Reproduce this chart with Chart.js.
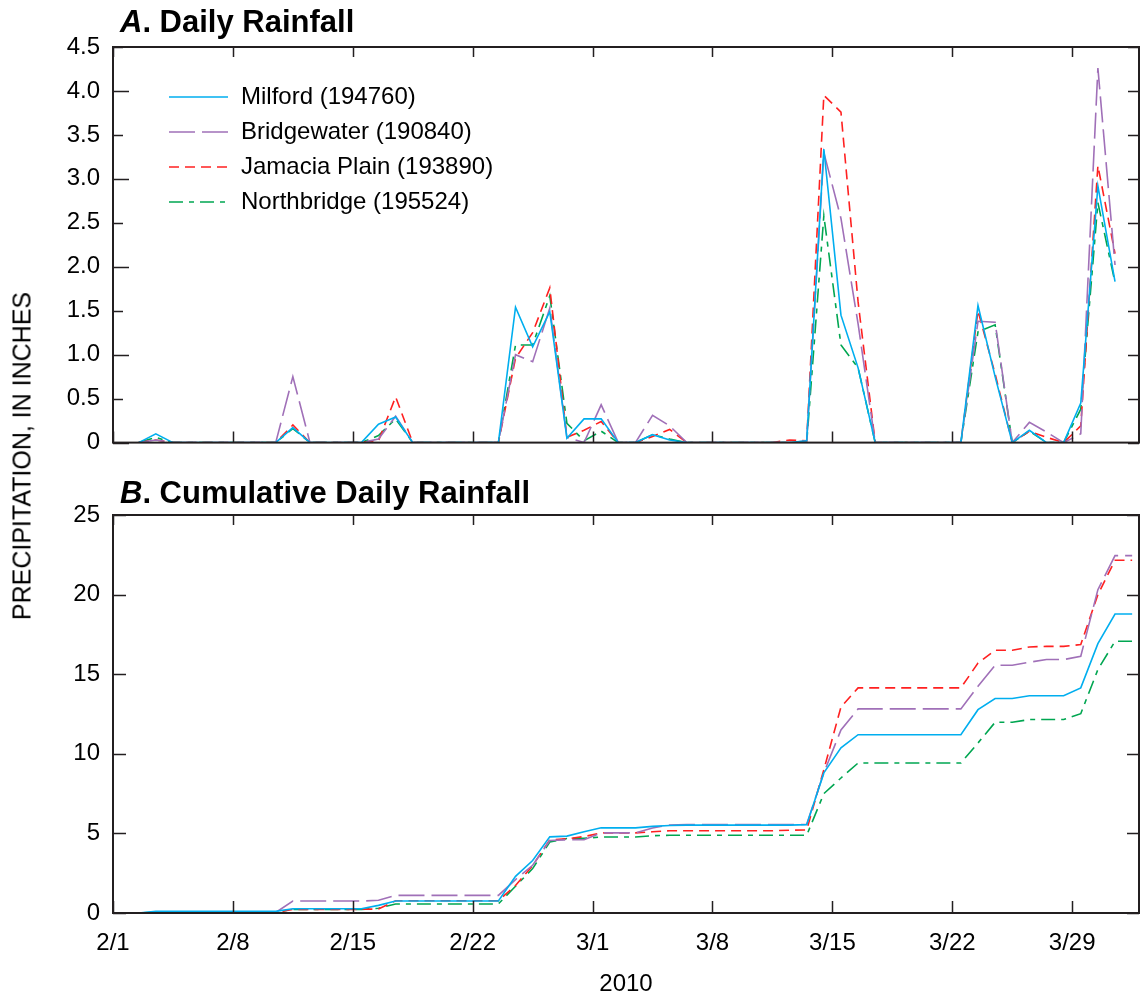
<!DOCTYPE html>
<html>
<head>
<meta charset="utf-8">
<title>Daily and cumulative rainfall, 2010</title>
<script src="https://cdn.jsdelivr.net/npm/chart.js@4"></script>
<style>
  body { margin: 0; background: #fff; }
  #wrap { position: relative; width: 1141px; height: 1000px; }
  canvas { position: absolute; left: 0; }
  #rainA { top: 0; }
  #rainB { top: 470px; }
  #ylab {
    position: absolute; left: 22px; top: 456px;
    transform: translate(-50%, -50%) rotate(-90deg);
    white-space: nowrap; color: #000;
    font: 25px "Liberation Sans", Arial, sans-serif;
  }
</style>
</head>
<body>
<div id="wrap">
  <canvas id="rainA" width="1141" height="470"></canvas>
  <canvas id="rainB" width="1141" height="530"></canvas>
  <div id="ylab">PRECIPITATION, IN INCHES</div>
</div>
<script>
// observation dates (2010), one per day
var dates = ['2/2','2/3','2/4','2/5','2/6','2/7','2/8','2/9','2/10','2/11',
  '2/12','2/13','2/14','2/15','2/16','2/17','2/18','2/19','2/20','2/21',
  '2/22','2/23','2/24','2/25','2/26','2/27','2/28','3/1','3/2','3/3',
  '3/4','3/5','3/6','3/7','3/8','3/9','3/10','3/11','3/12','3/13',
  '3/14','3/15','3/16','3/17','3/18','3/19','3/20','3/21','3/22','3/23',
  '3/24','3/25','3/26','3/27','3/28','3/29','3/30','3/31','4/1'];

var xTickLabels = ['2/1','2/8','2/15','2/22','3/1','3/8','3/15','3/22','3/29'];

var stations = ['Milford (194760)', 'Bridgewater (190840)', 'Jamacia Plain (193890)', 'Northbridge (195524)'];

// A. daily rainfall, inches (2/2 - 3/31)
var milfordDaily = [0, 0.10, 0, 0, 0, 0, 0, 0, 0, 0.17,
  0, 0, 0, 0, 0.21, 0.29, 0, 0, 0, 0,
  0, 0, 1.54, 1.09, 1.49, 0.05, 0.27, 0.27, 0, 0,
  0.09, 0.03, 0, 0, 0, 0, 0, 0, 0, 0.02,
  3.34, 1.45, 0.85, 0, 0, 0, 0, 0, 0, 1.56,
  0.75, 0, 0.14, 0, 0, 0.45, 2.92, 1.83];
var bridgewaterDaily = [0, 0.03, 0, 0, 0, 0, 0, 0, 0, 0.75,
  0, 0, 0, 0, 0.04, 0.30, 0, 0, 0, 0,
  0, 0, 1.00, 0.92, 1.53, 0.06, 0, 0.43, 0, 0,
  0.31, 0.19, 0, 0, 0, 0, 0, 0, 0, 0.02,
  3.30, 2.55, 1.35, 0, 0, 0, 0, 0, 0, 1.38,
  1.37, 0, 0.23, 0.12, 0, 0.10, 4.26, 2.02];
var jamaicaDaily = [0, 0.03, 0, 0, 0, 0, 0, 0, 0, 0.20,
  0, 0, 0, 0, 0.02, 0.52, 0, 0, 0, 0,
  0, 0, 0.96, 1.25, 1.76, 0.06, 0.14, 0.24, 0, 0,
  0.07, 0.15, 0, 0, 0, 0, 0, 0, 0.03, 0.02,
  3.95, 3.76, 1.60, 0, 0, 0, 0, 0, 0, 1.50,
  0.78, 0, 0.13, 0.06, 0, 0.19, 3.15, 2.15];
var northbridgeDaily = [0, 0.06, 0, 0, 0, 0, 0, 0, 0, 0.16,
  0, 0, 0, 0, 0.08, 0.27, 0, 0, 0, 0,
  0, 0, 1.11, 1.11, 1.67, 0.22, 0.02, 0.13, 0, 0,
  0.09, 0.04, 0, 0, 0, 0, 0, 0, 0, 0,
  2.58, 1.11, 0.85, 0, 0, 0, 0, 0, 0, 1.26,
  1.34, 0, 0.13, 0, 0, 0.38, 2.73, 1.82];

// B. cumulative daily rainfall, inches (2/2 - 4/1)
var milfordCum = [0, 0.10, 0.10, 0.10, 0.10, 0.10, 0.10, 0.10, 0.10, 0.27,
  0.27, 0.27, 0.27, 0.27, 0.48, 0.75, 0.75, 0.75, 0.75, 0.75,
  0.75, 0.75, 2.30, 3.30, 4.78, 4.83, 5.10, 5.35, 5.35, 5.35,
  5.44, 5.50, 5.52, 5.52, 5.52, 5.52, 5.52, 5.52, 5.52, 5.55,
  8.80, 10.37, 11.20, 11.20, 11.20, 11.20, 11.20, 11.20, 11.20, 12.77,
  13.47, 13.47, 13.65, 13.65, 13.65, 14.14, 16.92, 18.78, 18.78];
var bridgewaterCum = [0, 0.03, 0.03, 0.03, 0.03, 0.03, 0.03, 0.03, 0.03, 0.75,
  0.75, 0.75, 0.75, 0.75, 0.80, 1.11, 1.11, 1.11, 1.11, 1.11,
  1.11, 1.11, 2.10, 3.00, 4.55, 4.60, 4.60, 5.03, 5.03, 5.03,
  5.34, 5.53, 5.55, 5.55, 5.55, 5.55, 5.55, 5.55, 5.55, 5.57,
  8.80, 11.50, 12.82, 12.82, 12.82, 12.82, 12.82, 12.82, 12.82, 14.24,
  15.56, 15.56, 15.75, 15.92, 15.92, 16.13, 20.31, 22.45, 22.45];
var jamaicaCum = [0, 0.03, 0.03, 0.03, 0.03, 0.03, 0.03, 0.03, 0.03, 0.23,
  0.23, 0.23, 0.23, 0.23, 0.25, 0.77, 0.77, 0.77, 0.77, 0.77,
  0.77, 0.77, 1.73, 2.98, 4.60, 4.66, 4.80, 5.03, 5.03, 5.03,
  5.10, 5.17, 5.17, 5.17, 5.17, 5.17, 5.17, 5.17, 5.20, 5.22,
  9.00, 12.94, 14.14, 14.14, 14.14, 14.14, 14.14, 14.14, 14.14, 15.70,
  16.50, 16.50, 16.71, 16.75, 16.75, 16.86, 20.00, 22.16, 22.16];
var northbridgeCum = [0, 0.06, 0.06, 0.06, 0.06, 0.06, 0.06, 0.06, 0.06, 0.22,
  0.22, 0.22, 0.22, 0.22, 0.30, 0.57, 0.57, 0.57, 0.57, 0.57,
  0.57, 0.57, 1.68, 2.79, 4.46, 4.68, 4.70, 4.77, 4.77, 4.77,
  4.86, 4.88, 4.88, 4.88, 4.88, 4.88, 4.88, 4.88, 4.88, 4.88,
  7.50, 8.48, 9.42, 9.42, 9.42, 9.42, 9.42, 9.42, 9.42, 10.68,
  11.98, 11.98, 12.15, 12.15, 12.15, 12.52, 15.29, 17.07, 17.07];

var colors = ['#00aeef', '#a070b8', '#ff2020', '#00a651'];
var dashes = [[], [26, 7], [10, 6], [14, 6, 5, 6]];
var FONT = '"Liberation Sans", Arial, sans-serif';

// days since 2/1
function dayOf(s) {
  var p = s.split('/');
  var m = +p[0], d = +p[1];
  return (m === 2 ? 0 : m === 3 ? 28 : 59) + d - 1;
}

function toPoints(vals) {
  // daily totals plotted at midday
  return vals.map(function(v, i) { return { x: dayOf(dates[i]) + 0.5, y: v }; });
}

function makeSets(series) {
  return series.map(function(vals, i) {
    return {
      label: stations[i],
      data: toPoints(vals),
      borderColor: colors[i],
      borderDash: dashes[i],
      borderWidth: 1.6,
      pointRadius: 0,
      fill: false,
      tension: 0
    };
  });
}

// box round the plot plus inward tick marks on all four sides
var frameTicks = {
  id: 'frameTicks',
  afterDraw: function(chart, args, o) {
    var ctx = chart.ctx, a = chart.chartArea;
    var xs = chart.scales.x, ys = chart.scales.y;
    ctx.save();
    ctx.strokeStyle = '#231f20';
    ctx.lineWidth = 1.5;
    ctx.beginPath();
    xs.ticks.forEach(function(t) {
      var px = Math.round(xs.getPixelForValue(t.value)) + 0.5;
      ctx.moveTo(px, a.bottom); ctx.lineTo(px, a.bottom - o.xBottom);
      ctx.moveTo(px, a.top); ctx.lineTo(px, a.top + o.xTop);
    });
    ys.ticks.forEach(function(t) {
      var py = Math.round(ys.getPixelForValue(t.value)) + 0.5;
      var len = (Math.abs(t.value % o.majorStep) < 1e-6) ? o.yLeftMajor : o.yLeftMinor;
      ctx.moveTo(a.left, py); ctx.lineTo(a.left + len, py);
      ctx.moveTo(a.right, py); ctx.lineTo(a.right - o.yRight, py);
    });
    ctx.stroke();
    ctx.lineWidth = 2;
    ctx.strokeRect(a.left, a.top, a.right - a.left, a.bottom - a.top);
    ctx.restore();
  }
};

// panel title ("A." italic) and, for panel A, the legend inside the plot
var panelText = {
  id: 'panelText',
  afterDraw: function(chart, args, o) {
    var ctx = chart.ctx;
    ctx.save();
    ctx.fillStyle = '#000';
    ctx.textBaseline = 'alphabetic';
    ctx.font = 'italic bold 31px ' + FONT;
    ctx.fillText(o.letter, o.titleX, o.titleY);
    var w = ctx.measureText(o.letter).width;
    ctx.font = 'bold 31px ' + FONT;
    ctx.fillText(o.title, o.titleX + w, o.titleY);
    if (o.legend) {
      ctx.font = '24px ' + FONT;
      ctx.textBaseline = 'middle';
      chart.data.datasets.forEach(function(ds, i) {
        var y = o.legendY + i * o.legendStep;
        ctx.strokeStyle = ds.borderColor;
        ctx.lineWidth = 1.6;
        ctx.setLineDash(ds.borderDash);
        ctx.beginPath();
        ctx.moveTo(o.legendX, y);
        ctx.lineTo(o.legendX + 59, y);
        ctx.stroke();
        ctx.setLineDash([]);
        ctx.fillText(ds.label, o.legendX + 72, y);
      });
    }
    ctx.restore();
  }
};

function xScale(showLabels, height) {
  return {
    type: 'linear',
    min: 0,
    max: 59.9,
    afterBuildTicks: function(s) {
      s.ticks = xTickLabels.map(function(l) { return { value: dayOf(l) }; });
    },
    afterFit: function(s) { s.height = height; },
    grid: { display: false, drawTicks: false },
    border: { display: false },
    ticks: {
      display: showLabels,
      autoSkip: false,
      maxRotation: 0,
      padding: 16,
      color: '#000',
      font: { family: FONT, size: 24 },
      callback: function(v) {
        var i = xTickLabels.map(dayOf).indexOf(v);
        return i >= 0 ? xTickLabels[i] : '';
      }
    },
    title: showLabels ? {
      display: true, text: '2010', color: '#000',
      font: { family: FONT, size: 24 }, padding: { top: 0, bottom: 1 }
    } : { display: false }
  };
}

function yScale(max, step) {
  return {
    min: 0,
    max: max,
    afterFit: function(s) { s.width = 113; },
    grid: { display: false, drawTicks: false },
    border: { display: false },
    ticks: {
      stepSize: step,
      padding: 13,
      color: '#000',
      font: { family: FONT, size: 24 },
      callback: function(v) { return v === 0 ? '0' : (step < 1 ? v.toFixed(1) : String(v)); }
    }
  };
}

new Chart(document.getElementById('rainA').getContext('2d'), {
  type: 'line',
  data: { datasets: makeSets([milfordDaily, bridgewaterDaily, jamaicaDaily, northbridgeDaily]) },
  options: {
    responsive: false,
    animation: false,
    devicePixelRatio: 1,
    layout: { padding: { top: 47, right: 2, left: 0, bottom: 0 } },
    scales: { x: xScale(false, 22), y: yScale(4.5, 0.5) },
    plugins: {
      legend: { display: false },
      tooltip: { enabled: false },
      frameTicks: { xTop: 10, xBottom: 11, yLeftMajor: 16, yLeftMinor: 10, yRight: 11, majorStep: 1 },
      panelText: { letter: 'A', title: '. Daily Rainfall', titleX: 120, titleY: 32,
        legend: true, legendX: 169, legendY: 97, legendStep: 35 }
    }
  },
  plugins: [frameTicks, panelText]
});

new Chart(document.getElementById('rainB').getContext('2d'), {
  type: 'line',
  data: { datasets: makeSets([milfordCum, bridgewaterCum, jamaicaCum, northbridgeCum]) },
  options: {
    responsive: false,
    animation: false,
    devicePixelRatio: 1,
    layout: { padding: { top: 45, right: 2, left: 0, bottom: 0 } },
    scales: { x: xScale(true, 87), y: yScale(25, 5) },
    plugins: {
      legend: { display: false },
      tooltip: { enabled: false },
      frameTicks: { xTop: 10, xBottom: 12, yLeftMajor: 13, yLeftMinor: 13, yRight: 12, majorStep: 5 },
      panelText: { letter: 'B', title: '. Cumulative Daily Rainfall', titleX: 120, titleY: 33, legend: false }
    }
  },
  plugins: [frameTicks, panelText]
});
</script>
</body>
</html>
